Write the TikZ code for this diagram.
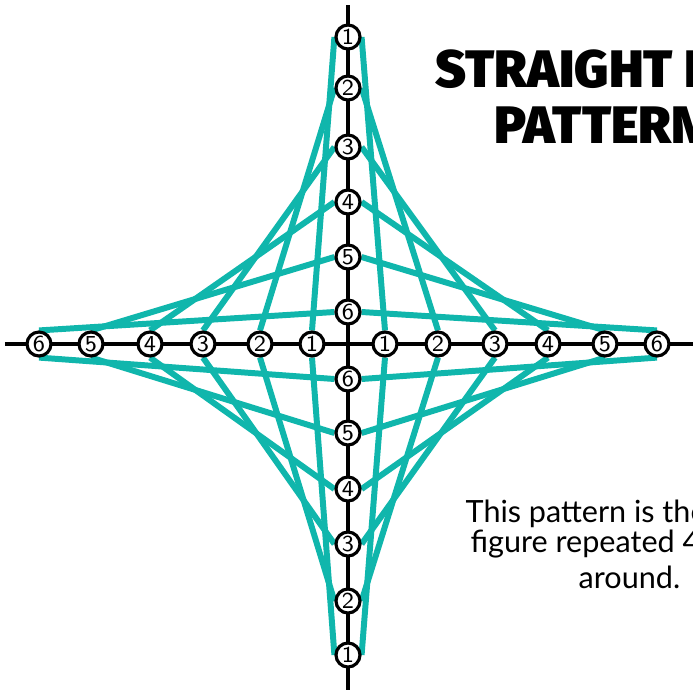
\documentclass[tikz,border=0pt]{standalone}
\usepackage{fontspec}
\setmainfont{Lato}
\newfontfamily\titlefont{Fira Sans Black}
\usetikzlibrary{backgrounds}
\definecolor{stringteal}{RGB}{16,182,172}
\tikzset{
  dot/.style={circle, draw=black, line width=0.9pt, fill=white, inner sep=0pt,
    minimum size=0.24cm, font=\sffamily\fontsize{6.5}{6.5}\selectfont},
  thread/.style={stringteal, line width=1.7pt},
  axis/.style={black, line width=0.95pt},
}

\begin{document}
\begin{tikzpicture}
  \useasboundingbox (-3.48,-3.45) rectangle (3.45,3.44);
  \clip (-3.48,-3.45) rectangle (3.45,3.44);
  % Axes
  \coordinate (axL) at (-3.43,0);
  \coordinate (axR) at (3.50,0);
  \coordinate (axT) at (0,3.39);
  \coordinate (axB) at (0,-3.50);
  \draw[axis] (axL) -- (axR);
  \draw[axis] (axT) -- (axB);
  % Top arm
  \node[dot] (t1) at (0,3.07) {1};
  \node[dot] (t2) at (0,2.56) {2};
  \node[dot] (t3) at (0,1.97) {3};
  \node[dot] (t4) at (0,1.42) {4};
  \node[dot] (t5) at (0,0.87) {5};
  \node[dot] (t6) at (0,0.32) {6};
  % Bottom arm
  \node[dot] (b6) at (0,-0.35) {6};
  \node[dot] (b5) at (0,-0.89) {5};
  \node[dot] (b4) at (0,-1.45) {4};
  \node[dot] (b3) at (0,-2.00) {3};
  \node[dot] (b2) at (0,-2.57) {2};
  \node[dot] (b1) at (0,-3.11) {1};
  % Left arm
  \node[dot] (l1) at (-0.36,0) {1};
  \node[dot] (l2) at (-0.88,0) {2};
  \node[dot] (l3) at (-1.45,0) {3};
  \node[dot] (l4) at (-1.98,0) {4};
  \node[dot] (l5) at (-2.57,0) {5};
  \node[dot] (l6) at (-3.09,0) {6};
  % Right arm
  \node[dot] (r1) at (0.37,0) {1};
  \node[dot] (r2) at (0.90,0) {2};
  \node[dot] (r3) at (1.47,0) {3};
  \node[dot] (r4) at (2.00,0) {4};
  \node[dot] (r5) at (2.57,0) {5};
  \node[dot] (r6) at (3.09,0) {6};
  % Threads, k on one arm to k on the next
  \begin{scope}[on background layer]
    \foreach \k in {1,...,6}{
      \draw[thread] (t\k.east) -- (r\k.north);
      \draw[thread] (t\k.west) -- (l\k.north);
      \draw[thread] (b\k.east) -- (r\k.south);
      \draw[thread] (b\k.west) -- (l\k.south);
    }
  \end{scope}
  % Title
  \node[anchor=base west, inner sep=0pt, font=\titlefont\fontsize{15}{15}\selectfont] (title1) at (0.87,2.57) {STRAIGHT LINE};
  \node[anchor=base west, inner sep=0pt, font=\titlefont\fontsize{15}{15}\selectfont] (title2) at (1.46,2.01) {PATTERN};
  % Note
  \node[anchor=base west, inner sep=0pt, font=\fontsize{8.7}{9}\selectfont] (note1) at (1.17,-1.78) {This pattern is the same};
  \node[anchor=base west, inner sep=0pt, font=\fontsize{8.7}{9}\selectfont] (note2) at (1.22,-2.08) {figure repeated 4 times};
  \node[anchor=base west, inner sep=0pt, font=\fontsize{8.7}{9}\selectfont] (note3) at (2.30,-2.44) {around.};
\end{tikzpicture}
\end{document}
